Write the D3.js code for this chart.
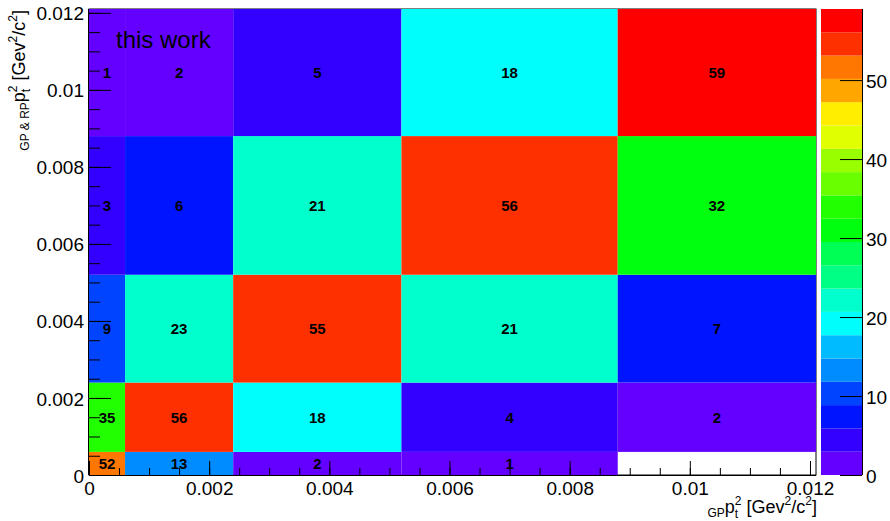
<!DOCTYPE html>
<html>
<head>
<meta charset="utf-8">
<script src="https://cdn.jsdelivr.net/npm/d3@7"></script>
<style>
  body { margin: 0; background: #fff; }
  svg { display: block; font-family: "Liberation Sans", Arial, sans-serif; }
</style>
</head>
<body>
<div id="chart"></div>
<script>
// bin edges (same binning on both axes)
var xEdges = [0, 0.0006, 0.0024, 0.0052, 0.0088, 0.0121];
var yEdges = [0, 0.0006, 0.0024, 0.0052, 0.0088, 0.0121];

// bin contents, rows from bottom (low y) to top
var counts = [
  [52, 13, 2, 1, 0],
  [35, 56, 18, 4, 2],
  [9, 23, 55, 21, 7],
  [3, 6, 21, 56, 32],
  [1, 2, 5, 18, 59]
];

var xTicks = [0, 0.002, 0.004, 0.006, 0.008, 0.01, 0.012];
var yTicks = [0, 0.002, 0.004, 0.006, 0.008, 0.01, 0.012];
var zTicks = [0, 10, 20, 30, 40, 50];

var zMin = 0, zMax = 59;
var nContours = 20;
var nColors = 50;

var width = 890, height = 521;
var frame = { left: 89, right: 816, top: 9, bottom: 475 };
var pal = { left: 821, right: 862 };

var svg = d3.select("#chart").append("svg")
  .attr("width", width)
  .attr("height", height);

var x = d3.scaleLinear().domain([0, 0.0121]).range([frame.left, frame.right]);
var y = d3.scaleLinear().domain([0, 0.0121]).range([frame.bottom, frame.top]);
var z = d3.scaleLinear().domain([zMin, zMax]).range([frame.bottom, frame.top]);

// root "pretty palette": 50 hues from violet to red
function paletteColor(i) {
  var hue = 280 - (i + 1) * (280 / nColors);
  return d3.hsl(hue, 1, 0.5).toString();
}
function contourColor(k) {
  var i = Math.floor((k + 0.99) * nColors / nContours);
  if (i > nColors - 1) i = nColors - 1;
  return paletteColor(i);
}
function levelOf(v) {
  return Math.floor(0.01 + (v - zMin) * nContours / (zMax - zMin));
}

// frame first, cells drawn over it
svg.append("rect")
  .attr("x", frame.left).attr("y", frame.top)
  .attr("width", frame.right - frame.left)
  .attr("height", frame.bottom - frame.top)
  .attr("fill", "none").attr("stroke", "#000");

var cells = [];
counts.forEach(function (row, j) {
  row.forEach(function (v, i) {
    cells.push({ i: i, j: j, v: v });
  });
});
var filled = cells.filter(function (d) { return d.v > 0; });

svg.append("g").selectAll("rect")
  .data(filled)
  .join("rect")
  .attr("x", function (d) { return x(xEdges[d.i]); })
  .attr("y", function (d) { return y(yEdges[d.j + 1]); })
  .attr("width", function (d) { return x(xEdges[d.i + 1]) - x(xEdges[d.i]); })
  .attr("height", function (d) { return y(yEdges[d.j]) - y(yEdges[d.j + 1]); })
  .attr("fill", function (d) { return contourColor(levelOf(d.v)); });

svg.append("g").selectAll("text")
  .data(filled)
  .join("text")
  .attr("x", function (d) { return (x(xEdges[d.i]) + x(xEdges[d.i + 1])) / 2; })
  .attr("y", function (d) { return (y(yEdges[d.j]) + y(yEdges[d.j + 1])) / 2; })
  .attr("dy", "0.36em")
  .attr("text-anchor", "middle")
  .attr("font-size", 15)
  .attr("font-weight", "bold")
  .attr("fill", "#000")
  .text(function (d) { return d.v; });

// axes
var fmt = function (d) { return String(+d.toFixed(4)); };

function minorValues(step, max) {
  var out = [];
  for (var v = 0; v <= max + 1e-9; v += step) out.push(+v.toFixed(5));
  return out;
}

// minor ticks (own groups so the major axis call does not remove them)
svg.append("g").attr("class", "minor")
  .attr("transform", "translate(0," + frame.bottom + ")")
  .call(d3.axisBottom(x).tickValues(minorValues(0.0005, 0.012)).tickSizeInner(-7).tickSizeOuter(0).tickFormat(""));
svg.append("g").attr("class", "minor")
  .attr("transform", "translate(" + frame.left + ",0)")
  .call(d3.axisLeft(y).tickValues(minorValues(0.0005, 0.012)).tickSizeInner(-11).tickSizeOuter(0).tickFormat(""));
svg.selectAll("g.minor path.domain").remove();

var gx = svg.append("g").attr("transform", "translate(0," + frame.bottom + ")");
gx.call(d3.axisBottom(x).tickValues(xTicks).tickSizeInner(-14).tickSizeOuter(0).tickPadding(7).tickFormat(fmt));
gx.selectAll("path.domain").attr("d", "M" + frame.left + ",0.5H" + frame.right);

var gy = svg.append("g").attr("transform", "translate(" + frame.left + ",0)");
gy.call(d3.axisLeft(y).tickValues(yTicks).tickSizeInner(-22).tickSizeOuter(0).tickPadding(5).tickFormat(fmt));
gy.selectAll("path.domain").attr("d", "M-0.5," + frame.bottom + "V" + frame.top);

svg.selectAll(".tick text")
  .attr("font-size", 19)
  .attr("font-family", "Liberation Sans, Arial, sans-serif")
  .attr("fill", "#000");
gy.selectAll(".tick text").attr("dy", "0.37em");
svg.selectAll(".tick line").attr("stroke", "#000");
svg.selectAll("path.domain").attr("stroke", "#000");

// palette
var bands = d3.range(nContours);
var step = (zMax - zMin) / nContours;
svg.append("g").selectAll("rect")
  .data(bands)
  .join("rect")
  .attr("x", pal.left)
  .attr("y", function (k) { return z(zMin + (k + 1) * step); })
  .attr("width", pal.right - pal.left)
  .attr("height", function (k) { return z(zMin + k * step) - z(zMin + (k + 1) * step); })
  .attr("fill", function (k) { return contourColor(k); });

var gz = svg.append("g").attr("transform", "translate(" + pal.right + ",0)");
gz.call(d3.axisRight(z).tickValues(zTicks).tickSizeInner(-22).tickSizeOuter(0).tickPadding(4));
gz.selectAll("path.domain").attr("d", "M0.5," + frame.bottom + "V" + frame.top).attr("stroke", "#000");
gz.selectAll(".tick line").attr("stroke", "#000");
gz.selectAll(".tick text")
  .attr("font-size", 19)
  .attr("font-family", "Liberation Sans, Arial, sans-serif")
  .attr("dy", "0.37em")
  .attr("fill", "#000");

// axis titles
function addTitle(parent, sub) {
  var t = parent.append("text")
    .attr("text-anchor", "end")
    .attr("font-size", 18)
    .attr("fill", "#000");
  t.append("tspan").attr("font-size", 12).attr("dy", 4).text(sub);
  t.append("tspan").attr("dy", -4).text("p");
  t.append("tspan").attr("font-size", 12).attr("dy", -8).text("2");
  t.append("tspan").attr("font-size", 12).attr("dx", -6.7).attr("dy", 13).text("t");
  t.append("tspan").attr("dx", 3.4).attr("dy", -5).text(" [Gev");
  t.append("tspan").attr("font-size", 12).attr("dy", -8).text("2");
  t.append("tspan").attr("dy", 8).text("/c");
  t.append("tspan").attr("font-size", 12).attr("dy", -8).text("2");
  t.append("tspan").attr("dy", 8).text("]");
  return t;
}

addTitle(svg.append("g").attr("transform", "translate(817,513)"), "GP");
addTitle(svg.append("g").attr("transform", "translate(25,10) rotate(-90)"), "GP & RP");

// label
svg.append("text")
  .attr("x", 116)
  .attr("y", 48)
  .attr("font-size", 24)
  .attr("fill", "#000")
  .text("this work");
</script>
</body>
</html>
